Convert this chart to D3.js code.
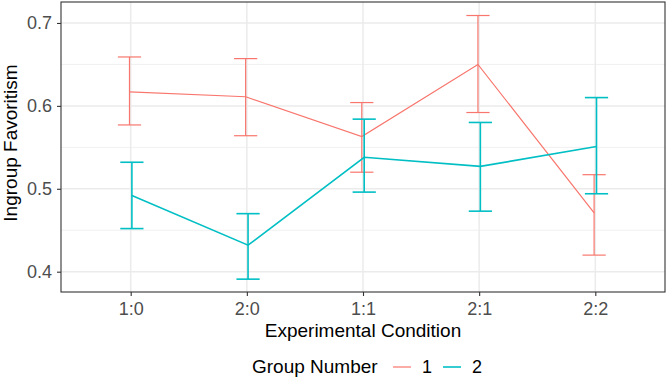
<!DOCTYPE html>
<html>
<head>
<meta charset="utf-8">
<script src="https://cdn.jsdelivr.net/npm/d3@7"></script>
<style>
  body { margin: 0; background: #fff; }
  text { font-family: "Liberation Sans", Arial, sans-serif; }
</style>
</head>
<body>
<div id="chart"></div>
<script>
// conditions on the x axis
let conditions = ["1:0", "2:0", "1:1", "2:1", "2:2"];
let groups = ["1", "2"];

// group 1 (red)
let mean1  = [0.617, 0.611, 0.563, 0.650, 0.471];
let upper1 = [0.659, 0.657, 0.604, 0.709, 0.517];
let lower1 = [0.577, 0.564, 0.520, 0.592, 0.420];

// group 2 (cyan)
let mean2  = [0.492, 0.432, 0.538, 0.527, 0.551];
let upper2 = [0.532, 0.470, 0.584, 0.580, 0.610];
let lower2 = [0.452, 0.391, 0.496, 0.473, 0.494];

let yTicks = [0.4, 0.5, 0.6, 0.7];
let yMinor = [0.45, 0.55, 0.65];

let colors = ["#F8766D", "#00BFC4"];

let series = [
    { group: groups[0], mean: mean1, upper: upper1, lower: lower1, color: colors[0], lw: 1.2, dodge: -1.2 },
    { group: groups[1], mean: mean2, upper: upper2, lower: lower2, color: colors[1], lw: 1.6, dodge: 1.2 }
];

let width = 668, height = 381;
let margin = { top: 2, right: 3, bottom: 89, left: 61 };
let w = width - margin.left - margin.right;
let h = height - margin.top - margin.bottom;

let svg = d3.select("#chart").append("svg")
    .attr("width", width)
    .attr("height", height);

let g = svg.append("g")
    .attr("transform", "translate(" + margin.left + "," + margin.top + ")");

// discrete x scale, ggplot style expansion of 0.6
let x = d3.scalePoint()
    .domain(conditions)
    .range([0, w])
    .padding(0.6);

let y = d3.scaleLinear()
    .domain([0.3755, 0.7253])
    .range([h, 0]);

let step = x.step();

// grid
g.selectAll(".minor").data(yMinor).join("line")
    .attr("x1", 0).attr("x2", w)
    .attr("y1", d => y(d)).attr("y2", d => y(d))
    .attr("stroke", "#EBEBEB").attr("stroke-width", 0.8);

g.selectAll(".majorY").data(yTicks).join("line")
    .attr("x1", 0).attr("x2", w)
    .attr("y1", d => y(d)).attr("y2", d => y(d))
    .attr("stroke", "#EBEBEB").attr("stroke-width", 1.5);

g.selectAll(".majorX").data(conditions).join("line")
    .attr("x1", d => x(d)).attr("x2", d => x(d))
    .attr("y1", 0).attr("y2", h)
    .attr("stroke", "#EBEBEB").attr("stroke-width", 1.5);

// series
series.forEach(function (s) {
    let line = d3.line()
        .x((d, i) => x(conditions[i]) + s.dodge)
        .y(d => y(d));

    g.append("path")
        .datum(s.mean)
        .attr("d", line)
        .attr("fill", "none")
        .attr("stroke", s.color)
        .attr("stroke-width", s.lw);

    let cap = step * 0.1;
    conditions.forEach(function (c, i) {
        let cx = x(c) + s.dodge;
        let eb = g.append("g")
            .attr("stroke", s.color)
            .attr("stroke-width", s.lw);
        eb.append("line").attr("x1", cx).attr("x2", cx)
            .attr("y1", y(s.upper[i])).attr("y2", y(s.lower[i]));
        eb.append("line").attr("x1", cx - cap).attr("x2", cx + cap)
            .attr("y1", y(s.upper[i])).attr("y2", y(s.upper[i]));
        eb.append("line").attr("x1", cx - cap).attr("x2", cx + cap)
            .attr("y1", y(s.lower[i])).attr("y2", y(s.lower[i]));
    });
});

// panel border
g.append("rect")
    .attr("x", 0).attr("y", 0)
    .attr("width", w).attr("height", h)
    .attr("fill", "none")
    .attr("stroke", "#333333")
    .attr("stroke-width", 1.1);

// axes
let xAxis = g.append("g")
    .attr("transform", "translate(0," + h + ")")
    .call(d3.axisBottom(x).tickSize(4).tickPadding(3));

let yAxis = g.append("g")
    .call(d3.axisLeft(y).tickValues(yTicks).tickFormat(d3.format(".1f")).tickSize(4).tickPadding(5));

[xAxis, yAxis].forEach(function (a) {
    a.select(".domain").remove();
    a.selectAll(".tick line").attr("stroke", "#333333").attr("stroke-width", 1.1);
    a.selectAll(".tick text")
        .attr("fill", "#4D4D4D")
        .style("font-size", "18px")
        .style("font-family", "'Liberation Sans', Arial, sans-serif");
});
xAxis.selectAll(".tick text").attr("dy", "0.9em");

// axis titles
svg.append("text")
    .attr("x", margin.left + w / 2)
    .attr("y", 337)
    .attr("text-anchor", "middle")
    .style("font-size", "19px")
    .text("Experimental Condition");

svg.append("text")
    .attr("transform", "translate(17,143) rotate(-90)")
    .attr("text-anchor", "middle")
    .style("font-size", "19px")
    .text("Ingroup Favoritism");

// legend
let legend = svg.append("g");
legend.append("text")
    .attr("x", 252).attr("y", 373)
    .style("font-size", "19px")
    .text("Group Number");

let keyX = [393, 443];
series.forEach(function (s, i) {
    legend.append("line")
        .attr("x1", keyX[i]).attr("x2", keyX[i] + 18)
        .attr("y1", 367).attr("y2", 367)
        .attr("stroke", s.color)
        .attr("stroke-width", s.lw);
    legend.append("text")
        .attr("x", keyX[i] + 29).attr("y", 373)
        .style("font-size", "18px")
        .text(s.group);
});
</script>
</body>
</html>
